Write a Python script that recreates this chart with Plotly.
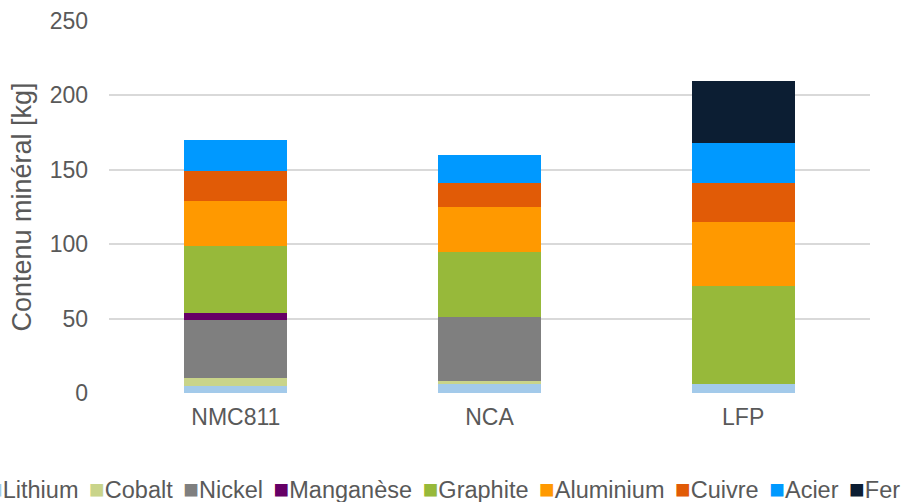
import plotly.graph_objects as go

# Battery chemistries and mineral content per pack (kg)
chemistries = ["NMC811", "NCA", "LFP"]

minerals = ["Lithium", "Cobalt", "Nickel", "Manganèse", "Graphite",
            "Aluminium", "Cuivre", "Acier", "Fer"]

lithium = [5, 6, 6]
cobalt = [5, 2, 0]
nickel = [39, 43, 0]
manganese = [5, 0, 0]
graphite = [45, 44, 66]
aluminium = [30, 30, 43]
cuivre = [20, 16, 26]
acier = [21, 19, 27]
fer = [0, 0, 42]

colors = ["#A3CAEA", "#C9D48A", "#7F7F7F", "#660066", "#97B93A",
          "#FF9900", "#E15B06", "#0099FF", "#0C1E33"]

series = [lithium, cobalt, nickel, manganese, graphite,
          aluminium, cuivre, acier, fer]

y_ticks = [0, 50, 100, 150, 200, 250]

FONT = "Liberation Sans, Arial, sans-serif"
TEXT_COLOR = "#595959"

fig = go.Figure()
for name, values, color in zip(minerals, series, colors):
    fig.add_trace(go.Bar(
        x=chemistries, y=values, name=name,
        marker=dict(color=color, line=dict(width=0)),
        showlegend=False,
    ))

# Legend row written as one line of coloured squares and names
gap = "<span style='font-size:38px'> </span>"
legend_text = gap.join(
    f"<span style='color:{c};font-size:26px'>■</span>{n}"
    for n, c in zip(minerals, colors)
)

W, H = 901, 502
L, R, T, B = 109, 31, 21, 109
plot_w = W - L - R
plot_h = H - T - B

fig.add_annotation(
    text=legend_text,
    xref="paper", yref="paper",
    x=(902 - L) / plot_w, xanchor="right",
    y=(H - B - 485) / plot_h, yanchor="middle",
    showarrow=False,
    font=dict(family=FONT, size=23.5, color=TEXT_COLOR),
)

fig.update_layout(
    barmode="stack",
    bargap=0.594,
    width=W, height=H,
    margin=dict(l=L, r=R, t=T, b=B, autoexpand=False),
    paper_bgcolor="white",
    plot_bgcolor="white",
    font=dict(family=FONT, size=23, color=TEXT_COLOR),
)

fig.update_xaxes(
    showgrid=False, showline=False, zeroline=False,
    ticks="", tickfont=dict(size=23, color=TEXT_COLOR),
    ticklabelstandoff=8,
)

fig.update_yaxes(
    range=[0, 250], tickvals=y_ticks,
    showgrid=True, gridcolor="#D9D9D9", gridwidth=1.5,
    zeroline=False, showline=False, ticks="",
    tickfont=dict(size=23, color=TEXT_COLOR),
    ticklabelstandoff=20,
    title=dict(text="Contenu minéral [kg]", font=dict(size=27, color=TEXT_COLOR),
               standoff=10),
)

fig.write_html("out.html")
